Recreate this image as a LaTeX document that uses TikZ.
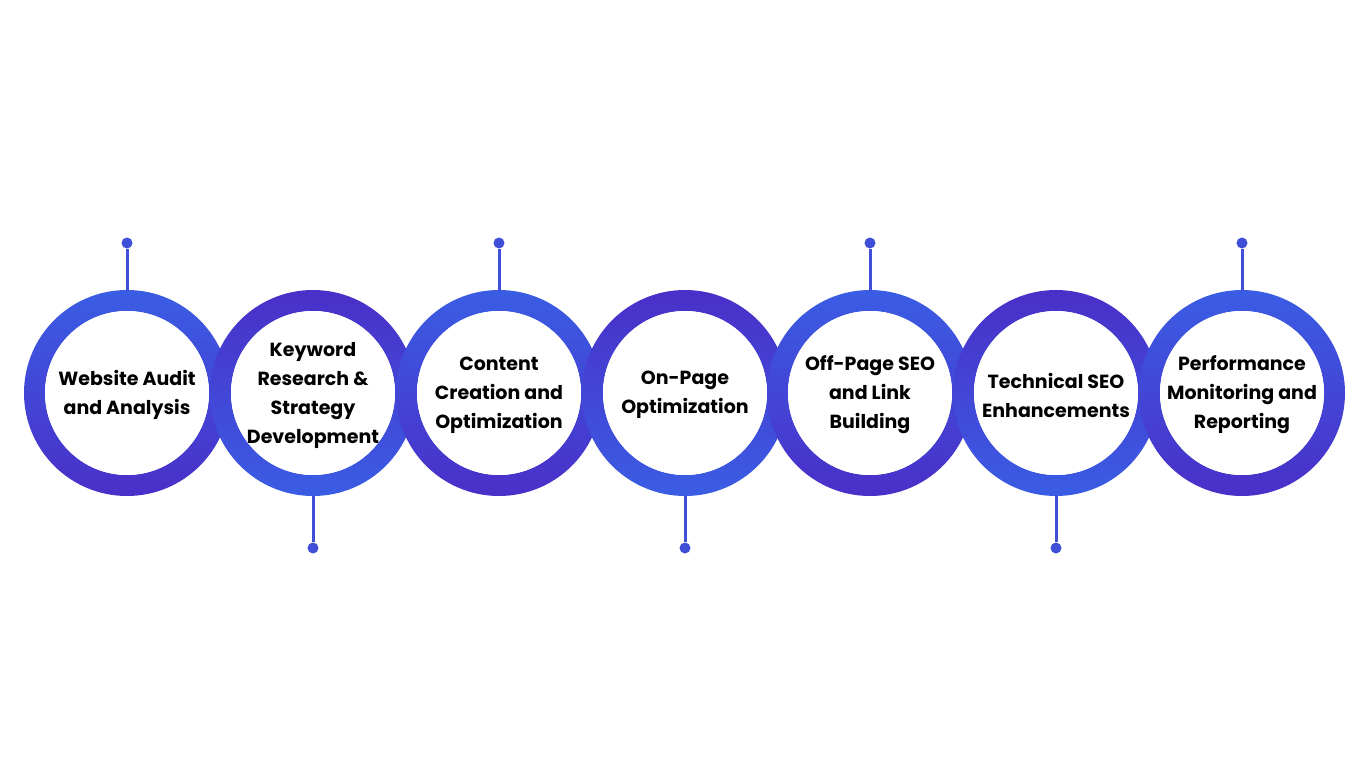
\documentclass[tikz,border=0pt]{standalone}
\usepackage{fontspec}
\setmainfont{Poppins}[UprightFont=* Bold]
\usetikzlibrary{calc}
\definecolor{ringblue}{HTML}{3A5DE4}
\definecolor{ringpurple}{HTML}{4A2FC8}
\definecolor{stemblue}{HTML}{3F4FD8}
\tikzset{
  steptext/.style={align=center,font=\fontsize{19}{29}\selectfont,text=black,inner sep=0pt},
  stem/.style={stemblue,line width=3pt},
  stemdot/.style={circle,fill=stemblue,inner sep=0pt,minimum size=11pt}
}
\begin{document}
\begin{tikzpicture}[x=1pt,y=-1pt]
\useasboundingbox (0,0) rectangle (1366,768);
\foreach \i/\cx/\txt in {1/127/{Website Audit\\and Analysis},
  2/313/{Keyword\\Research \&\\Strategy\\Development},
  3/499/{Content\\Creation and\\Optimization},
  4/685/{On-Page\\Optimization},
  5/870/{Off-Page SEO\\and Link\\Building},
  6/1056/{Technical SEO\\Enhancements},
  7/1242/{Performance\\Monitoring and\\Reporting}}{
  \ifodd\i
    \path[even odd rule,top color=ringblue,bottom color=ringpurple] (\cx,393) circle (103) (\cx,393) circle (82);
    \node[stemdot] (dot\i) at (\cx,243) {};
    \coordinate (end\i) at (\cx,291);
  \else
    \path[even odd rule,top color=ringpurple,bottom color=ringblue] (\cx,393) circle (103) (\cx,393) circle (82);
    \node[stemdot] (dot\i) at (\cx,548) {};
    \coordinate (end\i) at (\cx,495);
  \fi
  \fill[white] (\cx,393) circle (82);
  \node[steptext] (ring\i) at (\cx,395) {\txt};
  \draw[stem] (end\i) -- (dot\i);
}
\end{tikzpicture}
\end{document}
